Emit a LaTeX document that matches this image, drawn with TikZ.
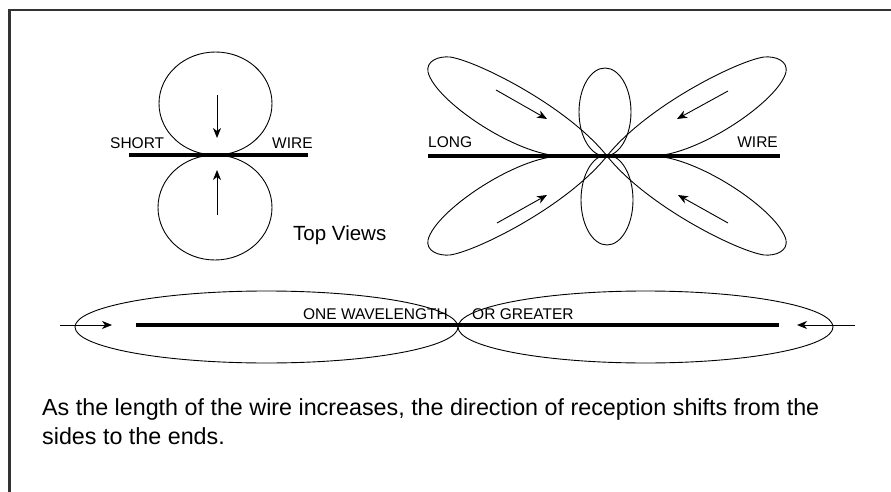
\documentclass[tikz,border=0pt]{standalone}
\usepackage{fontspec}
\setmainfont{Liberation Sans}
\usetikzlibrary{arrows.meta}
\tikzset{
  lobe/.style={line width=0.9pt, black},
  wirel/.style={line width=3.6pt, black},
  arr/.style={line width=0.9pt, -{Stealth[length=10pt,width=8pt,inset=3pt]}},
  lbl/.style={inner sep=0pt, font=\fontsize{15.5}{18}\selectfont},
  frame/.style={line width=2.5pt, black!80}
}
\begin{document}
\begin{tikzpicture}[x=1pt,y=-1pt]
\useasboundingbox (0,0) rectangle (891,492);
% frame
\draw[frame] (891,10) -- (9.5,10) -- (9.5,492);

% ---------- short wire ----------
\draw[lobe] (215.5,103.5) ellipse [x radius=56.5pt, y radius=51.5pt];
\draw[lobe] (215,207.5) ellipse [x radius=57pt, y radius=52.5pt];
\draw[wirel] (129,155) -- (308,155);
\draw[arr] (217,95) -- (217,138);
\draw[arr] (217,215) -- (217,170);
\node[lbl, anchor=base west] (short) at (110,149) {SHORT};
\node[lbl, anchor=base west] (wire1) at (272,149) {WIRE};

\node[inner sep=0pt, anchor=base west, font=\fontsize{20.5}{24}\selectfont] (top) at (293,240) {Top Views};

% ---------- long wire ----------
\draw[wirel] (428,156) -- (780,156);
\foreach \sx/\sy in {-1/-1, 1/-1, -1/1, 1/1}{
  \begin{scope}[shift={(607,156)}, xscale=\sx, yscale=\sy]
    \draw[lobe] (0,0) -- (45,0) .. controls (90,0) and (172,55) .. (179,84)
      .. controls (181,95) and (169,100) .. (157,99)
      .. controls (130,95) and (40,50) .. (0,0) -- cycle;
  \end{scope}
}
\draw[lobe] (605,112) ellipse [x radius=26pt, y radius=44pt];
\draw[lobe] (607,200) ellipse [x radius=26pt, y radius=45pt];
\draw[arr] (496,90) -- (547,119);
\draw[arr] (728,91) -- (677,119);
\draw[arr] (497,223) -- (547,195);
\draw[arr] (728,223) -- (678,195);
\node[lbl, anchor=base west] (long) at (428,147) {LONG};
\node[lbl, anchor=base east] (wire2) at (778,147) {WIRE};

% ---------- one wavelength ----------
\draw[lobe] (266.5,327) ellipse [x radius=191.5pt, y radius=36pt];
\draw[lobe] (645.5,327) ellipse [x radius=187.5pt, y radius=36pt];
\draw[line width=4pt] (136,325) -- (779,325);
\draw[arr] (60,325) -- (112,325);
\draw[arr] (855,325) -- (797,325);
\node[lbl, anchor=base east] (onewl) at (448,319) {ONE WAVELENGTH};
\node[lbl, anchor=base west] (orgr) at (472,319) {OR GREATER};

% ---------- caption ----------
\node[inner sep=0pt, anchor=base west, align=left, font=\fontsize{23.3}{29}\selectfont] (cap) at (42,444)
  {As the length of the wire increases, the direction of reception shifts from the\\sides to the ends.};
\end{tikzpicture}
\end{document}
